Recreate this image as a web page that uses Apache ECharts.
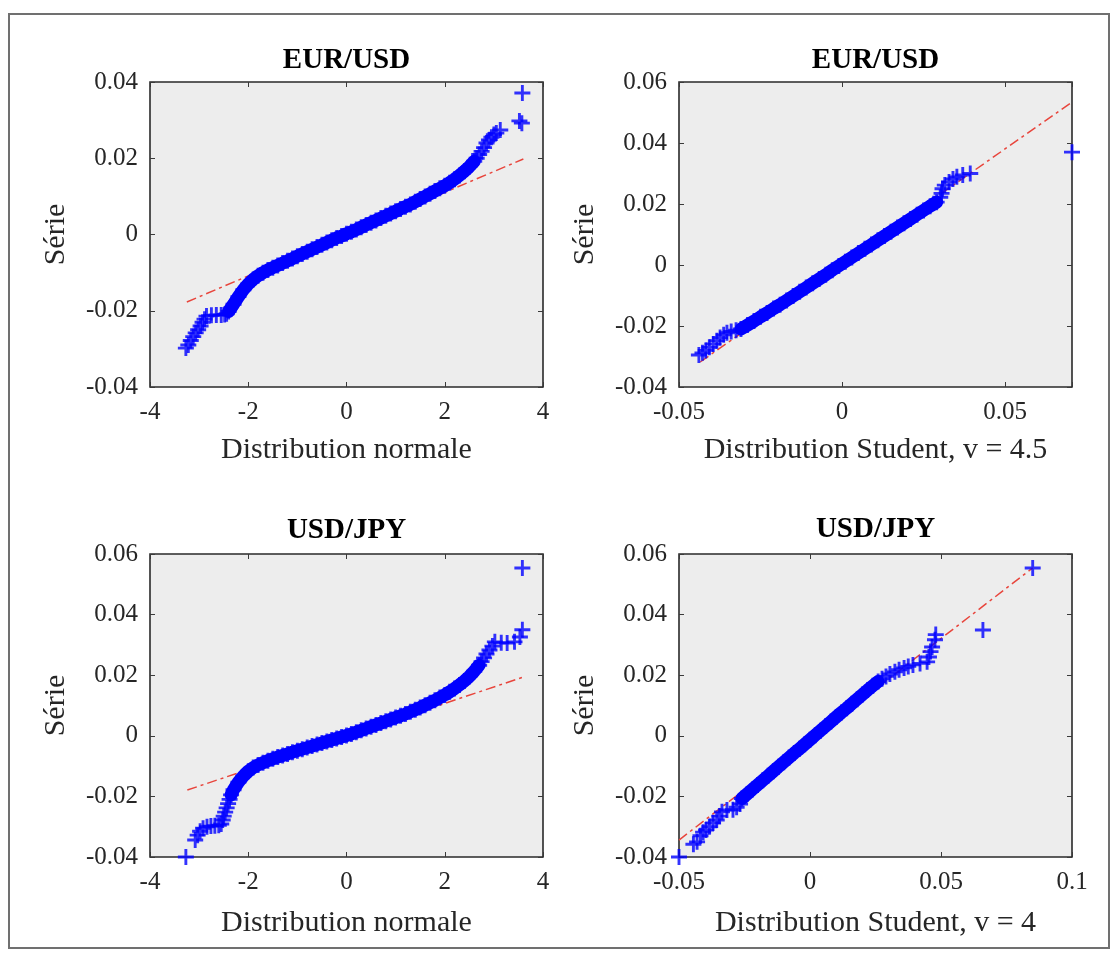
<!DOCTYPE html>
<html>
<head>
<meta charset="utf-8">
<title>QQ plots EUR/USD et USD/JPY</title>
<script src="https://cdn.jsdelivr.net/npm/echarts@6/dist/echarts.min.js"></script>
<style>
  html, body { margin: 0; padding: 0; background: #ffffff; }
  #chart { width: 1116px; height: 957px; }
</style>
</head>
<body>
<div id="chart"></div>
<script>
// ---- Tick labels of each axis ----
const normTicks = [-4, -2, 0, 2, 4];
const studTicksEur = [-0.05, 0, 0.05];
const studTicksJpy = [-0.05, 0, 0.05, 0.1];
const yTicksEur = [-0.04, -0.02, 0, 0.02, 0.04];
const yTicksEurStud = [-0.04, -0.02, 0, 0.02, 0.04, 0.06];
const yTicksJpy = [-0.04, -0.02, 0, 0.02, 0.04, 0.06];
const studMaxEur = 0.0705;   // last Student quantile of EUR/USD

// ---- EUR/USD vs normal quantiles ----
// dense central part of the sample quantiles
const eurNormCore = [[-2.4,-0.0202],[-2.3,-0.0183],[-2.2,-0.0163],[-2.1,-0.0145],[-2.0,-0.0130],[-1.9,-0.0118],[-1.8,-0.0108],[-1.7,-0.0100],[-1.6,-0.0093],[-1.5,-0.0087],[-1.4,-0.0081],[-1.3,-0.0075],[-1.2,-0.0069],[-1.1,-0.0063],[-1.0,-0.0057],[-0.9,-0.0051],[-0.8,-0.0045],[-0.7,-0.0039],[-0.6,-0.0033],[-0.5,-0.0027],[-0.4,-0.0021],[-0.3,-0.0015],[-0.2,-0.0009],[-0.1,-0.0004],[0,0.0002],[0.1,0.0007],[0.2,0.0013],[0.3,0.0019],[0.4,0.0025],[0.5,0.0031],[0.6,0.0037],[0.7,0.0043],[0.8,0.0049],[0.9,0.0055],[1.0,0.0061],[1.1,0.0067],[1.2,0.0073],[1.3,0.0079],[1.4,0.0086],[1.5,0.0093],[1.6,0.0100],[1.7,0.0107],[1.8,0.0114],[1.9,0.0121],[2.0,0.0128],[2.1,0.0136],[2.2,0.0145],[2.3,0.0155],[2.4,0.0166],[2.5,0.0178],[2.6,0.0192]];
// isolated points in both tails
const eurNormTail = [[-3.27,-0.0298],[-3.22,-0.0290],[-3.17,-0.0278],[-3.12,-0.0268],[-3.07,-0.0258],[-3.02,-0.0250],[-2.97,-0.0240],[-2.93,-0.0230],[-2.89,-0.0222],[-2.85,-0.0214],[-2.75,-0.0212],[-2.65,-0.0211],[-2.55,-0.0211],[-2.48,-0.0210],[-2.44,-0.0208],[2.65,0.0200],[2.70,0.0210],[2.75,0.0218],[2.80,0.0228],[2.85,0.0240],[2.90,0.0248],[2.95,0.0255],[3.00,0.0262],[3.05,0.0266],[3.13,0.0274],[3.52,0.0298],[3.57,0.0292],[3.58,0.0371]];
// reference line end points
const eurNormRef = [[-3.25,-0.0177],[3.6,0.0198]];

// ---- EUR/USD vs Student quantiles, v = 4.5 ----
const eurStudCore = [[-0.031,-0.0210],[-0.029,-0.0197],[-0.027,-0.0184],[-0.025,-0.0170],[-0.023,-0.0157],[-0.021,-0.0143],[-0.019,-0.0130],[-0.017,-0.0116],[-0.015,-0.0102],[-0.013,-0.0088],[-0.011,-0.0074],[-0.009,-0.0060],[-0.007,-0.0046],[-0.005,-0.0032],[-0.003,-0.0017],[-0.001,-0.0003],[0.001,0.0011],[0.003,0.0025],[0.005,0.0039],[0.007,0.0053],[0.009,0.0067],[0.011,0.0081],[0.013,0.0095],[0.015,0.0109],[0.017,0.0123],[0.019,0.0137],[0.021,0.0151],[0.023,0.0165],[0.025,0.0179],[0.027,0.0193],[0.029,0.0206]];
const eurStudTail = [[-0.0439,-0.0295],[-0.0428,-0.0288],[-0.0418,-0.0280],[-0.0407,-0.0270],[-0.0395,-0.0259],[-0.0384,-0.0248],[-0.0374,-0.0238],[-0.0363,-0.0229],[-0.0353,-0.0222],[-0.0340,-0.0218],[-0.0325,-0.0214],[0.0301,0.0222],[0.0305,0.0235],[0.0308,0.0250],[0.0315,0.0262],[0.0328,0.0272],[0.0340,0.0282],[0.0352,0.0289],[0.0370,0.0295],[0.0393,0.0300],[0.0705,0.0370]];
const eurStudRef = [[-0.0435,-0.0318],[0.0705,0.0534]];

// ---- USD/JPY vs normal quantiles ----
const jpyNormCore = [[-2.35,-0.0195],[-2.3,-0.0178],[-2.2,-0.0153],[-2.1,-0.0133],[-2.0,-0.0117],[-1.9,-0.0105],[-1.8,-0.0096],[-1.7,-0.0089],[-1.6,-0.0082],[-1.5,-0.0076],[-1.4,-0.0070],[-1.3,-0.0065],[-1.2,-0.0060],[-1.1,-0.0054],[-1.0,-0.0049],[-0.9,-0.0044],[-0.8,-0.0039],[-0.7,-0.0034],[-0.6,-0.0029],[-0.5,-0.0024],[-0.4,-0.0019],[-0.3,-0.0014],[-0.2,-0.0009],[-0.1,-0.0004],[0,0.0001],[0.1,0.0006],[0.2,0.0012],[0.3,0.0018],[0.4,0.0024],[0.5,0.0030],[0.6,0.0036],[0.7,0.0042],[0.8,0.0048],[0.9,0.0054],[1.0,0.0060],[1.1,0.0066],[1.2,0.0072],[1.3,0.0079],[1.4,0.0086],[1.5,0.0093],[1.6,0.0101],[1.7,0.0109],[1.8,0.0117],[1.9,0.0126],[2.0,0.0135],[2.1,0.0145],[2.2,0.0156],[2.3,0.0168],[2.4,0.0181],[2.5,0.0196],[2.6,0.0213],[2.7,0.0233]];
const jpyNormTail = [[-3.27,-0.0400],[-3.08,-0.0344],[-3.03,-0.0328],[-2.98,-0.0315],[-2.92,-0.0305],[-2.84,-0.0300],[-2.76,-0.0298],[-2.68,-0.0297],[-2.60,-0.0295],[-2.55,-0.0291],[-2.52,-0.0278],[-2.50,-0.0265],[-2.47,-0.0252],[-2.44,-0.0238],[-2.41,-0.0224],[-2.38,-0.0210],[2.75,0.0245],[2.80,0.0257],[2.85,0.0270],[2.91,0.0283],[2.97,0.0296],[3.02,0.0310],[3.15,0.0307],[3.27,0.0306],[3.42,0.0310],[3.53,0.0326],[3.58,0.0350],[3.58,0.0554]];
const jpyNormRef = [[-3.24,-0.0179],[3.6,0.0194]];

// ---- USD/JPY vs Student quantiles, v = 4 ----
const jpyStudCore = [[-0.026,-0.0207],[-0.024,-0.0192],[-0.022,-0.0177],[-0.020,-0.0162],[-0.018,-0.0147],[-0.016,-0.0132],[-0.014,-0.0117],[-0.012,-0.0102],[-0.010,-0.0087],[-0.008,-0.0072],[-0.006,-0.0057],[-0.004,-0.0043],[-0.002,-0.0028],[0,-0.0013],[0.002,0.0002],[0.004,0.0017],[0.006,0.0032],[0.008,0.0047],[0.010,0.0062],[0.012,0.0077],[0.014,0.0091],[0.016,0.0106],[0.018,0.0121],[0.020,0.0136],[0.022,0.0151],[0.024,0.0165],[0.026,0.0179]];
const jpyStudTail = [[-0.0500,-0.0400],[-0.0445,-0.0358],[-0.0431,-0.0350],[-0.0418,-0.0330],[-0.0408,-0.0318],[-0.0397,-0.0311],[-0.0384,-0.0300],[-0.0370,-0.0288],[-0.0356,-0.0278],[-0.0346,-0.0265],[-0.0336,-0.0251],[-0.0317,-0.0245],[-0.0294,-0.0244],[-0.0280,-0.0236],[-0.0267,-0.0225],[0.0275,0.0188],[0.0290,0.0196],[0.0305,0.0204],[0.0324,0.0211],[0.0340,0.0218],[0.0359,0.0224],[0.0375,0.0229],[0.0393,0.0234],[0.0420,0.0239],[0.0447,0.0244],[0.0454,0.0260],[0.0460,0.0278],[0.0466,0.0293],[0.0477,0.0317],[0.0480,0.0334],[0.0660,0.0349],[0.0850,0.0554]];
const jpyStudRef = [[-0.05,-0.0344],[0.085,0.0554]];

// ---- Layout and styles ----
const FONT = 'Liberation Serif';
const BLUE = '#0000ff';
const RED = '#e8453c';
const INK = '#262626';
const PLUS = 'path://M4.1,0H5.9V4.1H10V5.9H5.9V10H4.1V5.9H0V4.1H4.1Z';

const panels = [
  { title: 'EUR/USD', xName: 'Distribution normale', xTicks: normTicks, xMax: 4, yTicks: yTicksEur,
    core: eurNormCore, tail: eurNormTail, ref: eurNormRef,
    box: { left: 150, top: 82, width: 393, height: 305 }, titleY: 61, xGap: 48 },
  { title: 'EUR/USD', xName: 'Distribution Student, v = 4.5', xTicks: studTicksEur, xMax: studMaxEur, yTicks: yTicksEurStud,
    core: eurStudCore, tail: eurStudTail, ref: eurStudRef,
    box: { left: 679, top: 82, width: 393, height: 305 }, titleY: 61, xGap: 48 },
  { title: 'USD/JPY', xName: 'Distribution normale', xTicks: normTicks, xMax: 4, yTicks: yTicksJpy,
    core: jpyNormCore, tail: jpyNormTail, ref: jpyNormRef,
    box: { left: 150, top: 554, width: 393, height: 303 }, titleY: 531, xGap: 51 },
  { title: 'USD/JPY', xName: 'Distribution Student, v = 4', xTicks: studTicksJpy, xMax: 0.1, yTicks: yTicksJpy,
    core: jpyStudCore, tail: jpyStudTail, ref: jpyStudRef,
    box: { left: 679, top: 554, width: 393, height: 303 }, titleY: 530, xGap: 51 }
];

function tickFormatter(ticks) {
  return function (v) {
    const r = +(+v).toFixed(4);
    return ticks.some(t => Math.abs(t - r) < 1e-9) ? String(r) : '';
  };
}

const grid = [], xAxis = [], yAxis = [], series = [], graphic = [];

// outer frame of the figure
graphic.push({
  type: 'rect', silent: true, z: 0,
  shape: { x: 9, y: 14, width: 1100, height: 934 },
  style: { fill: 'none', stroke: '#707070', lineWidth: 2 }
});

panels.forEach((p, i) => {
  grid.push(Object.assign({
    show: true, backgroundColor: '#ededed', borderColor: '#2a2a2a', borderWidth: 1.6, containLabel: false
  }, p.box));

  const xInterval = p.xTicks[1] - p.xTicks[0];
  const yInterval = p.yTicks[1] - p.yTicks[0];
  const xMin = p.xTicks[0], yMin = p.yTicks[0], yMax = p.yTicks[p.yTicks.length - 1];
  const tick = { show: true, inside: true, length: 5, lineStyle: { color: '#3a3a3a', width: 1 } };
  const noLine = { show: false, onZero: false };

  xAxis.push({
    type: 'value', gridIndex: i, position: 'bottom',
    min: xMin, max: p.xMax, interval: xInterval,
    axisLine: noLine, axisTick: tick, splitLine: { show: false },
    axisLabel: { fontFamily: FONT, fontSize: 25, color: INK, margin: 13, formatter: tickFormatter(p.xTicks) },
    name: p.xName, nameLocation: 'middle', nameGap: p.xGap,
    nameTextStyle: { fontFamily: FONT, fontSize: 30, color: INK }
  });
  xAxis.push({
    type: 'value', gridIndex: i, position: 'top',
    min: xMin, max: p.xMax, interval: xInterval,
    axisLine: noLine, axisTick: tick, splitLine: { show: false },
    axisLabel: { show: false }
  });
  yAxis.push({
    type: 'value', gridIndex: i, position: 'left',
    min: yMin, max: yMax, interval: yInterval,
    axisLine: noLine, axisTick: tick, splitLine: { show: false },
    axisLabel: { fontFamily: FONT, fontSize: 25, color: INK, margin: 12, formatter: tickFormatter(p.yTicks) },
    name: 'Série', nameLocation: 'middle', nameRotate: 90, nameGap: 79,
    nameTextStyle: { fontFamily: FONT, fontSize: 30, color: INK }
  });
  yAxis.push({
    type: 'value', gridIndex: i, position: 'right',
    min: yMin, max: yMax, interval: yInterval,
    axisLine: noLine, axisTick: tick, splitLine: { show: false },
    axisLabel: { show: false }
  });

  const xi = i * 2, yi = i * 2;
  // dash-dot reference line
  series.push({
    type: 'line', xAxisIndex: xi, yAxisIndex: yi, data: p.ref,
    showSymbol: false, silent: true, z: 1,
    lineStyle: { color: RED, width: 1.5, type: [10, 4, 3, 4] }
  });
  // dense body of the quantile markers
  series.push({
    type: 'line', xAxisIndex: xi, yAxisIndex: yi, data: p.core,
    showSymbol: false, silent: true, z: 2, smooth: false,
    lineStyle: { color: BLUE, width: 13, cap: 'round', join: 'round' }
  });
  // every quantile pair drawn as a '+' marker
  series.push({
    type: 'scatter', xAxisIndex: xi, yAxisIndex: yi,
    data: p.tail.concat(p.core), symbol: PLUS, symbolSize: 16, z: 3, silent: true,
    itemStyle: { color: BLUE }
  });

  graphic.push({
    type: 'text', silent: true, z: 10,
    x: p.box.left + p.box.width / 2, y: p.titleY,
    style: {
      text: p.title, fill: '#000', font: 'bold 29px "' + FONT + '"',
      textAlign: 'center', textVerticalAlign: 'middle'
    }
  });
});

const chart = echarts.init(document.getElementById('chart'), null, { renderer: 'canvas', width: 1116, height: 957 });
chart.setOption({
  animation: false,
  backgroundColor: '#ffffff',
  textStyle: { fontFamily: FONT },
  grid, xAxis, yAxis, series, graphic
});
</script>
</body>
</html>
